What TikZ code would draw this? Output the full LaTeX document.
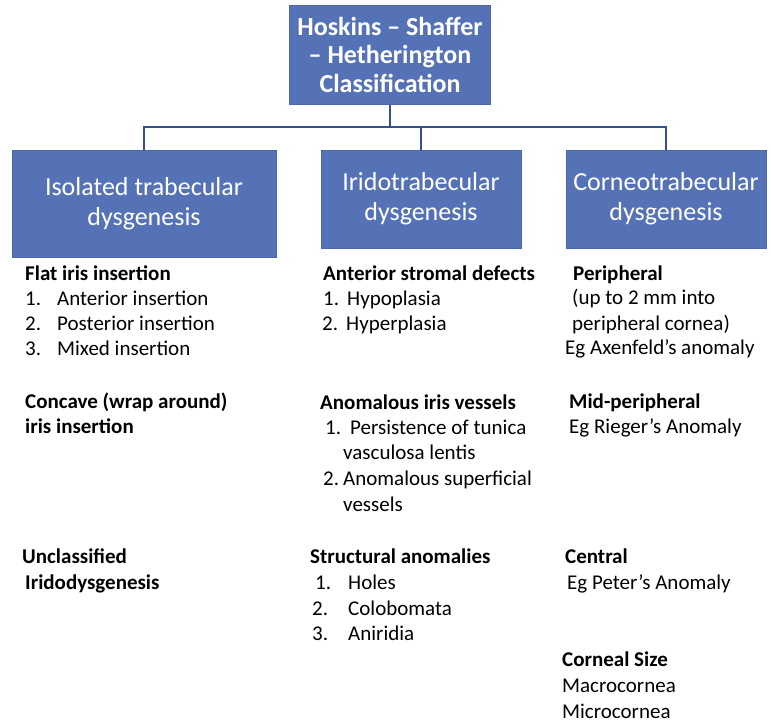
\documentclass[tikz,border=0pt]{standalone}
\usepackage{fontspec}
\setmainfont{Carlito}
\definecolor{boxfill}{HTML}{5572B6}
\definecolor{boxedge}{HTML}{4A67A8}
\definecolor{linkblue}{HTML}{34508F}
\definecolor{bodyink}{HTML}{000000}
\begin{document}
\begin{tikzpicture}[x=1pt,y=-1pt,
  catbox/.style={draw=boxedge, line width=1pt, fill=boxfill, text=white,
    align=center, inner sep=0pt, font=\fontsize{26}{30}\selectfont},
  titlebox/.style={catbox, font=\fontsize{26}{28.5}\selectfont\bfseries},
  conn/.style={draw=linkblue, line width=1.6pt},
  txt/.style={anchor=base west, inner sep=0pt, text=bodyink,
    font=\fontsize{21}{25.5}\selectfont},
  head/.style={txt, font=\fontsize{21}{25.5}\selectfont\bfseries}]
\useasboundingbox (0,0) rectangle (771,723);

% classification boxes
\node[titlebox, minimum width=201pt, minimum height=99pt] (title) at (390,54.5)
  {Hoskins – Shaffer\\– Hetherington\\Classification};
\node[catbox, minimum width=264pt, minimum height=107pt] (iso) at (144,203.5)
  {Isolated trabecular\\dysgenesis};
\node[catbox, minimum width=200pt, minimum height=98pt] (irido) at (421,199)
  {Iridotrabecular\\dysgenesis};
\node[catbox, minimum width=200pt, minimum height=98pt] (corneo) at (666,199)
  {Corneotrabecular\\dysgenesis};

% tree connectors
\coordinate (bus) at (0,127);
\draw[conn] (title.south) -- (title.south |- bus);
\draw[conn] (iso.north) -- (iso.north |- bus) -| (corneo.north);
\draw[conn] (irido.north) -- (irido.north |- bus);

% isolated trabecular dysgenesis
\node[head] (a1) at (25,280.5) {Flat iris insertion};
\node[txt] (a2n) at (25,305.5) {1.};
\node[txt] (a2) at (57,305.5) {Anterior insertion};
\node[txt] (a3n) at (25,330.5) {2.};
\node[txt] (a3) at (57,330.5) {Posterior insertion};
\node[txt] (a4n) at (25,355.5) {3.};
\node[txt] (a4) at (57,355.5) {Mixed insertion};
\node[head] (a5) at (25,408.5) {Concave (wrap around)};
\node[head] (a6) at (25,433.5) {iris insertion};
\node[head] (a7) at (22,563.5) {Unclassified};
\node[head] (a8) at (25,589.5) {Iridodysgenesis};

% iridotrabecular dysgenesis
\node[head] (b1) at (323,280.5) {Anterior stromal defects};
\node[txt] (b2n) at (323,305.5) {1.};
\node[txt] (b2) at (347,305.5) {Hypoplasia};
\node[txt] (b3n) at (322,330.5) {2.};
\node[txt] (b3) at (346,330.5) {Hyperplasia};
\node[head] (b4) at (320,409.5) {Anomalous iris vessels};
\node[txt] (b5n) at (325,434.5) {1.};
\node[txt] (b5) at (350,434.5) {Persistence of tunica};
\node[txt] (b6) at (343,459.5) {vasculosa lentis};
\node[txt] (b7n) at (323,485.5) {2.};
\node[txt] (b7) at (343,485.5) {Anomalous superficial};
\node[txt] (b8) at (343,511.5) {vessels};
\node[head] (b9) at (310,563.5) {Structural anomalies};
\node[txt] (b10n) at (315,589.5) {1.};
\node[txt] (b10) at (348,589.5) {Holes};
\node[txt] (b11n) at (312,615.5) {2.};
\node[txt] (b11) at (348,615.5) {Colobomata};
\node[txt] (b12n) at (312,640.5) {3.};
\node[txt] (b12) at (348,640.5) {Aniridia};

% corneotrabecular dysgenesis
\node[head] (c1) at (573,280.5) {Peripheral};
\node[txt] (c2) at (572,304.5) {(up to 2 mm into};
\node[txt] (c3) at (572,330.5) {peripheral cornea)};
\node[txt] (c4) at (565,354.5) {Eg Axenfeld’s anomaly};
\node[head] (c5) at (569,408.5) {Mid-peripheral};
\node[txt] (c6) at (569,433.5) {Eg Rieger’s Anomaly};
\node[head] (c7) at (565,563.5) {Central};
\node[txt] (c8) at (567,589.5) {Eg Peter’s Anomaly};
\node[head] (c9) at (562,666.5) {Corneal Size};
\node[txt] (c10) at (562,692.5) {Macrocornea};
\node[txt] (c11) at (562,718) {Microcornea};
\end{tikzpicture}
\end{document}
